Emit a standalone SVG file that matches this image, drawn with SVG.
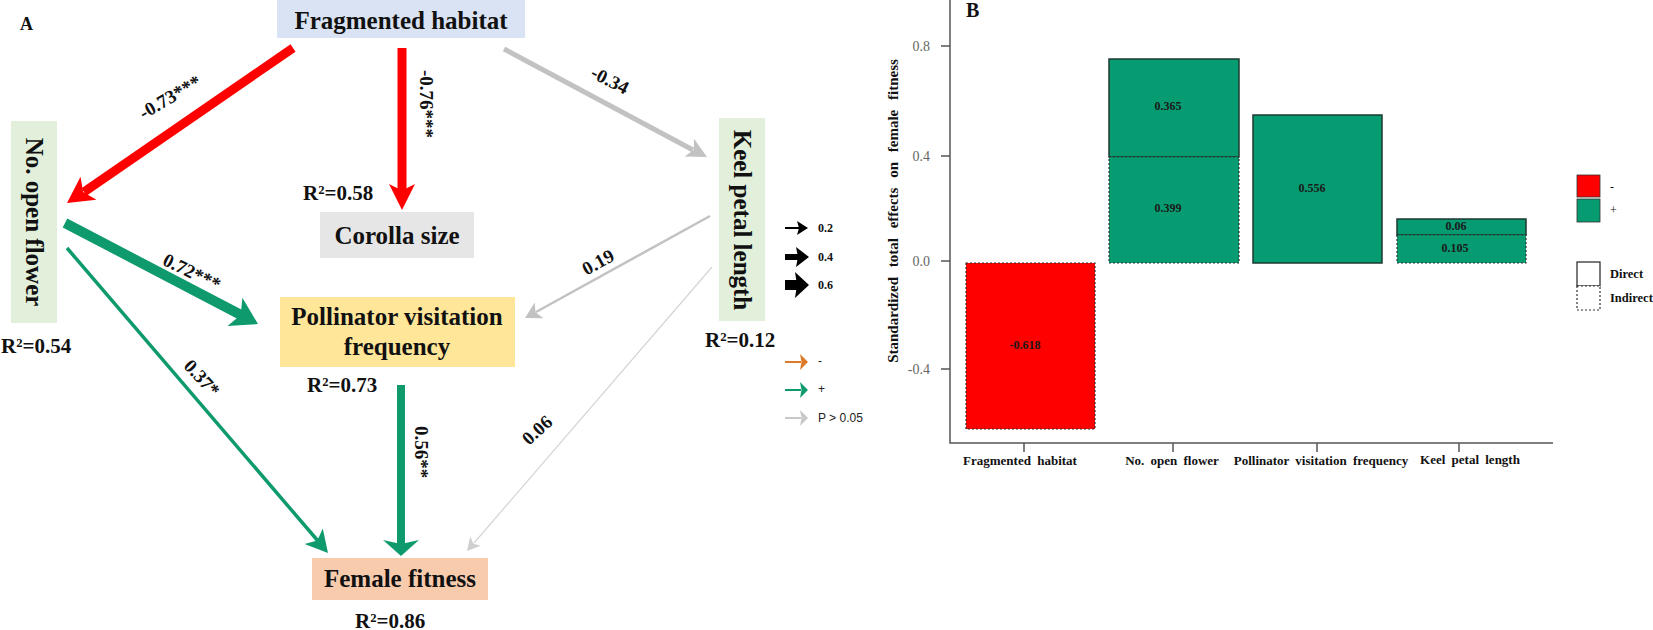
<svg xmlns="http://www.w3.org/2000/svg" width="1653" height="630" viewBox="0 0 1653 630">
<style>
text{font-family:"Liberation Serif","Times New Roman",serif;font-weight:bold;fill:#111}
.node{font-size:25px}
.r2{font-size:21px}
.el{font-size:19px}
.c{text-anchor:middle;dominant-baseline:central}
.sans{font-family:"Liberation Sans",Arial,sans-serif;font-weight:normal;font-size:12px;fill:#222}
.tick{font-weight:normal;font-size:14px;fill:#666;text-anchor:end}
.bl{font-size:12px;text-anchor:middle;dominant-baseline:central;fill:#1a1a1a}
.xl{font-size:13px;text-anchor:middle;word-spacing:3px}
.red{stroke:#ff0000;fill:none}
.redf{fill:#ff0000}
.grn{stroke:#0f9a6e;fill:none}
.grnf{fill:#0f9a6e}
.gry{stroke:#c2c2c2;fill:none}
.gryf{fill:#c2c2c2}
.solid{stroke:#1d3a2f;stroke-width:1.5}
.dot{stroke:#333;stroke-width:1.2;stroke-dasharray:2 2}
.axis{stroke:#555;stroke-width:1.5;fill:none}
</style>

<!-- Panel A -->
<text x="20" y="30" style="font-size:18px">A</text>

<g id="connectors">
  <!-- FH -> No. open flower -->
  <line class="red" x1="293" y1="48" x2="84" y2="192" stroke-width="9"/>
  <polygon class="redf" points="67,203 80.5,176.7 83.1,192 96.4,199.8"/>
  <!-- FH -> Corolla size -->
  <line class="red" x1="402" y1="48" x2="402" y2="191" stroke-width="9"/>
  <polygon class="redf" points="402,210 389,184 402,190.5 415,184"/>
  <!-- FH -> Keel -->
  <line class="gry" x1="504" y1="49" x2="693" y2="150" stroke-width="5"/>
  <polygon class="gryf" points="707,157 694,138.8 693.8,150 684.6,156.4"/>
  <!-- Keel -> Pollinator -->
  <line class="gry" x1="710" y1="216" x2="536" y2="312" stroke-width="2.5"/>
  <polygon class="gryf" points="525,318 534.7,302.4 535.5,312.2 543.4,318.2"/>
  <!-- Keel -> Female fitness -->
  <line x1="712" y1="267" x2="474" y2="543" stroke="#d4d4d4" stroke-width="1.2"/>
  <polygon fill="#cfcfcf" points="467,551 470.2,536.6 473.4,543.7 480.8,545.7"/>
  <!-- No. open flower -> Pollinator -->
  <line class="grn" x1="65" y1="223" x2="241" y2="315" stroke-width="10"/>
  <polygon class="grnf" points="258,324 242.4,297.8 240.7,315 227.5,326.1"/>
  <!-- No. open flower -> Female fitness -->
  <line class="grn" x1="67" y1="248" x2="318" y2="541" stroke-width="3.5"/>
  <polygon class="grnf" points="328,553 322.8,528.5 317.3,540.5 304.6,544.1"/>
  <!-- Pollinator -> Female fitness -->
  <line class="grn" x1="401" y1="385" x2="401" y2="545" stroke-width="8"/>
  <polygon class="grnf" points="401,556 383,540 401,544 419,540"/>

  <!-- edge labels -->
  <text class="el c" transform="translate(170,97) rotate(-30)">-0.73***</text>
  <text class="el c" transform="translate(426,104) rotate(90)">-0.76***</text>
  <text class="el c" transform="translate(610,80) rotate(27)">-0.34</text>
  <text class="el c" transform="translate(192,272) rotate(26)">0.72***</text>
  <text class="el c" transform="translate(598,262) rotate(-29)">0.19</text>
  <text class="el c" transform="translate(202,378) rotate(47)">0.37*</text>
  <text class="el c" transform="translate(421,452) rotate(90)">0.56**</text>
  <text class="el c" transform="translate(537,430) rotate(-42)">0.06</text>
</g>

<g id="fragmented-habitat">
  <rect x="277" y="0" width="248" height="38" fill="#dae3f3"/>
  <text class="node" x="401" y="29" text-anchor="middle">Fragmented habitat</text>
</g>
<g id="no-open-flower">
  <rect x="11" y="121" width="46" height="202" fill="#e2efda"/>
  <text class="node c" transform="translate(34,222) rotate(90)">No. open flower</text>
  <text class="r2" x="1" y="353">R²=0.54</text>
</g>
<g id="corolla-size">
  <rect x="320" y="212" width="154" height="46" fill="#e7e6e6"/>
  <text class="node" x="397" y="244" text-anchor="middle">Corolla size</text>
  <text class="r2" x="303" y="200">R²=0.58</text>
</g>
<g id="keel-petal-length">
  <rect x="719" y="118" width="46" height="203" fill="#e2efda"/>
  <text class="node c" transform="translate(742,220) rotate(90)">Keel petal length</text>
  <text class="r2" x="705" y="347">R²=0.12</text>
</g>
<g id="pollinator-visitation-frequency">
  <rect x="280" y="297" width="235" height="70" fill="#ffe699"/>
  <text class="node" x="397" y="325" text-anchor="middle">Pollinator visitation</text>
  <text class="node" x="397" y="355" text-anchor="middle">frequency</text>
  <text class="r2" x="307" y="392">R²=0.73</text>
</g>
<g id="female-fitness">
  <rect x="312" y="558" width="176" height="42" fill="#f8cbad"/>
  <text class="node" x="400" y="587" text-anchor="middle">Female fitness</text>
  <text class="r2" x="355" y="628">R²=0.86</text>
</g>

<g id="legend-a">
  <line x1="785" y1="228" x2="800" y2="228" stroke="#000" stroke-width="2"/>
  <polygon points="808,228 797,221 799,228 797,235" fill="#000"/>
  <line x1="785" y1="257" x2="798" y2="257" stroke="#000" stroke-width="6"/>
  <polygon points="809,257 796,247 798,257 796,267" fill="#000"/>
  <line x1="785" y1="285" x2="797" y2="285" stroke="#000" stroke-width="10"/>
  <polygon points="809,285 795,272 797,285 795,298" fill="#000"/>
  <text x="818" y="232" style="font-size:12px">0.2</text>
  <text x="818" y="261" style="font-size:12px">0.4</text>
  <text x="818" y="289" style="font-size:12px">0.6</text>
  <line x1="785" y1="362" x2="801" y2="362" stroke="#dd7a2a" stroke-width="2"/>
  <polygon points="808,362 800,354 801.5,362 800,370" fill="#dd7a2a"/>
  <line x1="785" y1="390" x2="801" y2="390" stroke="#0f9a6e" stroke-width="2"/>
  <polygon points="808,390 800,382 801.5,390 800,398" fill="#0f9a6e"/>
  <line x1="785" y1="418" x2="801" y2="418" stroke="#c8c8c8" stroke-width="2"/>
  <polygon points="808,418 800,410 801.5,418 800,426" fill="#c8c8c8"/>
  <text class="sans" x="818" y="365">-</text>
  <text class="sans" x="818" y="393">+</text>
  <text class="sans" x="818" y="422">P &gt; 0.05</text>
</g>

<!-- Panel B -->
<g id="panel-b">
  <text x="966" y="17" style="font-size:20px">B</text>
  <path class="axis" d="M950,0 V443 H1553"/>
  <path class="axis" d="M941,46 H950 M941,156 H950 M941,261 H950 M941,369 H950"/>
  <path class="axis" d="M1024,443 V452 M1173,443 V452 M1317,443 V452 M1459,443 V452"/>
  <text class="tick" x="930" y="51">0.8</text>
  <text class="tick" x="930" y="161">0.4</text>
  <text class="tick" x="930" y="266">0.0</text>
  <text class="tick" x="930" y="374">-0.4</text>
  <text transform="translate(898,211) rotate(-90)" text-anchor="middle" style="font-size:15px;word-spacing:6px">Standardized total effects on female fitness</text>

  <rect class="dot" x="966" y="263" width="129" height="166" fill="#ff0000"/>
  <text class="bl" x="1025" y="345">-0.618</text>

  <rect class="solid" x="1109" y="59" width="130" height="98" fill="#069b70"/>
  <rect class="dot" x="1109" y="157" width="130" height="106" fill="#069b70"/>
  <text class="bl" x="1168" y="106">0.365</text>
  <text class="bl" x="1168" y="208">0.399</text>

  <rect class="solid" x="1253" y="115" width="129" height="148" fill="#069b70"/>
  <text class="bl" x="1312" y="188">0.556</text>

  <rect class="solid" x="1397" y="219" width="129" height="16" fill="#069b70"/>
  <rect class="dot" x="1397" y="235" width="129" height="28" fill="#069b70"/>
  <text class="bl" x="1456" y="226">0.06</text>
  <text class="bl" x="1455" y="248">0.105</text>

  <text class="xl" x="1020" y="465">Fragmented habitat</text>
  <text class="xl" x="1172" y="465">No. open flower</text>
  <text class="xl" x="1321" y="465">Pollinator visitation frequency</text>
  <text class="xl" x="1470" y="464">Keel petal length</text>

  <rect x="1577" y="175" width="23" height="22" fill="#ff0000" stroke="#333" stroke-width="0.8"/>
  <rect x="1577" y="199" width="23" height="23" fill="#069b70" stroke="#333" stroke-width="0.8"/>
  <text x="1610" y="191" style="font-size:12px;font-weight:normal">-</text>
  <text x="1610" y="214" style="font-size:12px;font-weight:normal">+</text>
  <rect x="1577" y="262" width="23" height="24" fill="#fff" stroke="#222" stroke-width="1.2"/>
  <rect class="dot" x="1577" y="286" width="23" height="24" fill="#fff"/>
  <text x="1610" y="278" style="font-size:12.5px">Direct</text>
  <text x="1610" y="302" style="font-size:12.5px">Indirect</text>
</g>
</svg>
